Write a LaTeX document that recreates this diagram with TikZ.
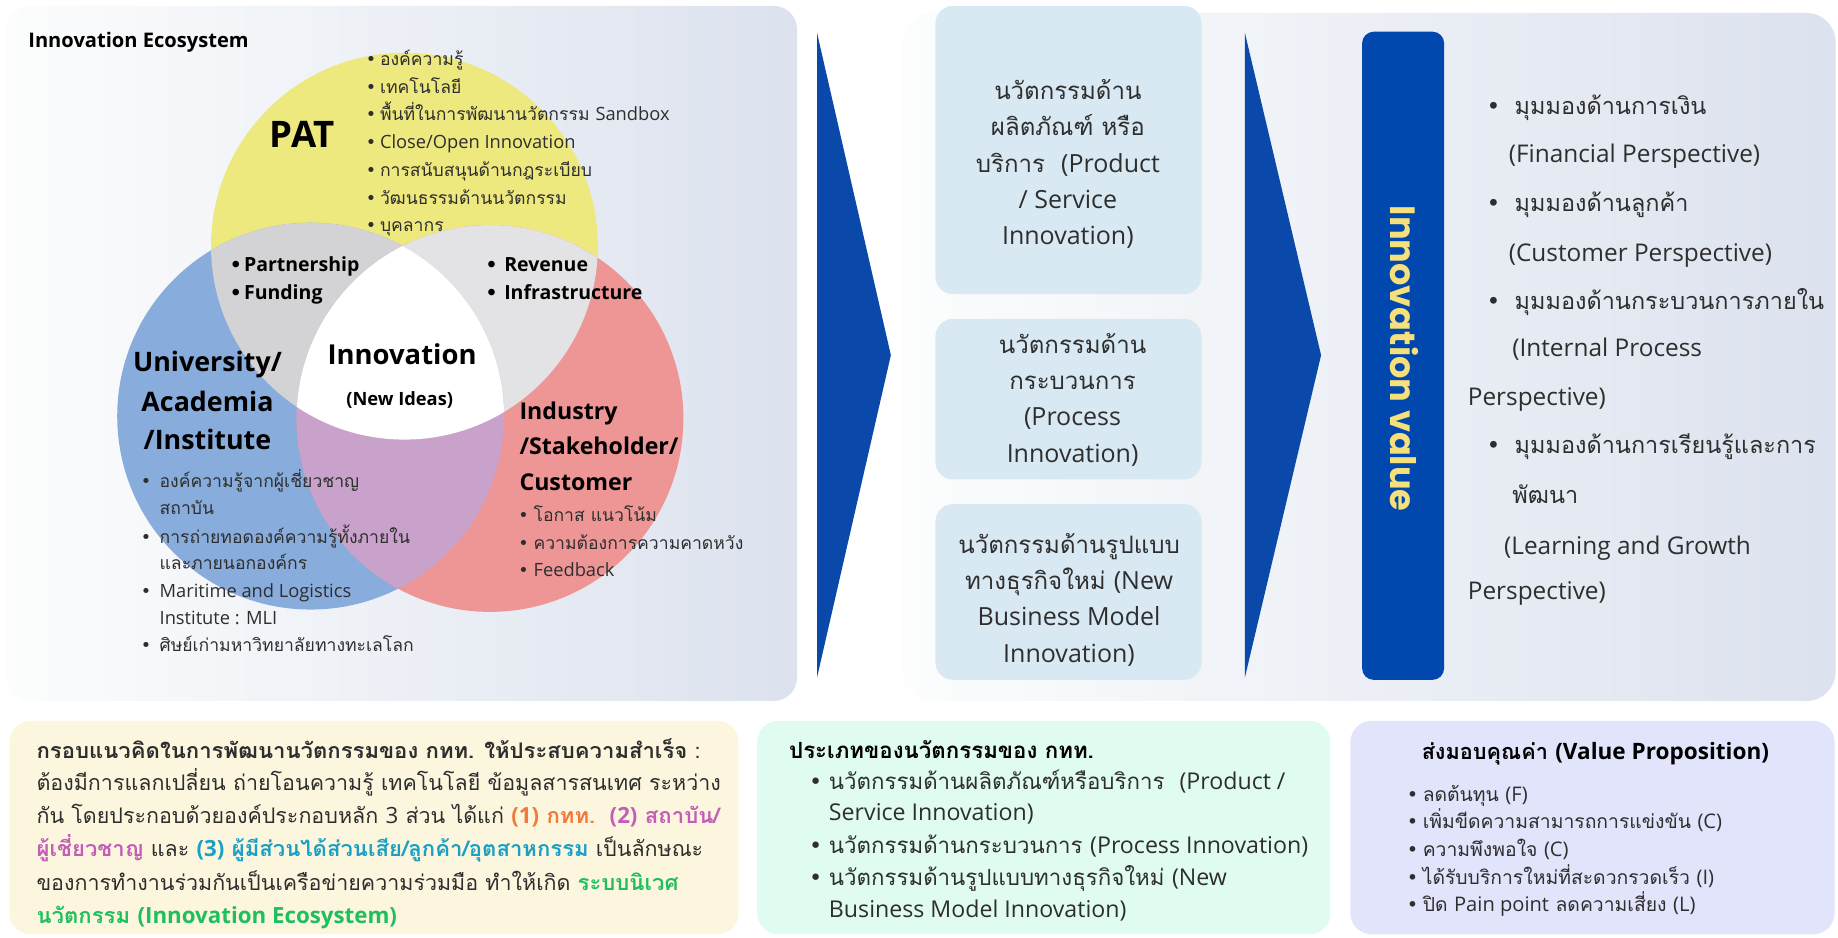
\documentclass[tikz,border=0pt]{standalone}
\usepackage{fontspec}
\setmainfont{Loma}[Script=Thai]
\newfontfamily\latfont{Open Sans}[Scale=1.04]
\newfontfamily\popfont{Poppins}
\newfontfamily\symfont{DejaVu Sans}
\definecolor{ink}{HTML}{2E2E2E}
\definecolor{panelL}{HTML}{FCFDFD}
\definecolor{panelM}{HTML}{EEF6F7}
\definecolor{panelR}{HTML}{DCE2EE}
\definecolor{vyel}{HTML}{EEE97E}
\definecolor{vblu}{HTML}{88ACDC}
\definecolor{vred}{HTML}{EE9595}
\definecolor{vgrayA}{HTML}{D3D3D5}
\definecolor{vgrayB}{HTML}{E3E3E5}
\definecolor{vpur}{HTML}{C9A2CC}
\definecolor{navy}{HTML}{0A48AA}
\definecolor{barblue}{HTML}{0048AE}
\definecolor{baryel}{HTML}{F5E07C}
\definecolor{mbox}{HTML}{D9E9F4}
\definecolor{boxA}{HTML}{FDF6DF}
\definecolor{boxB}{HTML}{E0FCF0}
\definecolor{boxC}{HTML}{E2E4FC}
\definecolor{orng}{HTML}{F07A3A}
\definecolor{magn}{HTML}{C35DB8}
\definecolor{teal}{HTML}{1AA0C4}
\definecolor{grn}{HTML}{1FBF5E}
\newcommand{\bul}[1]{\makebox[#1][l]{\symfont •}}
\newcommand{\fs}[2]{\fontsize{#1}{#2}\selectfont}
\newcommand{\lt}[1]{{\latfont #1}}
% slightly wider bold Thai for the summary paragraph
\newcommand{\bsw}{\bfseries\addfontfeatures{FakeStretch=1.03}}
\begin{document}
\begin{tikzpicture}[x=1pt,y=-1pt,
  txt/.style={anchor=west,inner sep=0pt,text=ink,text height=1.15em,text depth=0pt},
  ctxt/.style={anchor=center,inner sep=0pt,text=ink,align=center},
  venn/.style={txt,font=\fs{15}{18}},
  vlat/.style={txt,font=\fs{15}{18}\latfont},
  vbold/.style={txt,font=\fs{16}{18}\bfseries\latfont,text=black},
  vhead/.style={txt,font=\fs{19}{24}\bfseries\latfont,text=black},
  uhead/.style={ctxt,font=\fs{22}{26}\bfseries\latfont,text=black,text height=1.15em,text depth=0pt},
  mtxt/.style={ctxt,font=\fs{20.5}{31}},
  rtxt/.style={txt,font=\fs{20}{22}},
  rlat/.style={txt,font=\fs{20}{22}\latfont},
  atxt/.style={txt,font=\fs{18.3}{20}},
  btxt/.style={txt,font=\fs{19}{22}},
  ctxts/.style={txt,font=\fs{16.5}{18}}]
\useasboundingbox (0,0) rectangle (1568,800);

% background panels
\shade[rounded corners=20,left color=panelL,middle color=panelM,right color=panelR]
  (5,5) rectangle (680,598);
\shade[rounded corners=25,left color=panelL,middle color=panelM,right color=panelR]
  (770,11) rectangle (1566,598);

% Venn diagram
\coordinate (Y) at (345,210);
\coordinate (B) at (265,355);
\coordinate (R) at (418,357);
\fill[vyel] (Y) circle (165);
\fill[vblu] (B) circle (165);
\fill[vred] (R) circle (165);
\begin{scope}\clip (Y) circle (165); \fill[vgrayA] (B) circle (165); \end{scope}
\begin{scope}\clip (Y) circle (165); \fill[vgrayB] (R) circle (165); \end{scope}
\begin{scope}\clip (B) circle (165); \fill[vpur] (R) circle (165); \end{scope}
\begin{scope}\clip (Y) circle (165); \clip (B) circle (165); \fill[white] (R) circle (165); \end{scope}

\node[txt,font=\fs{16.5}{18}\bfseries\latfont,text=black] (eco) at (24,35) {Innovation Ecosystem};
\node[ctxt,font=\fs{30}{34}\bfseries\latfont,text=black] (pat) at (258,115) {PAT};
\node[venn] (pat1) at (312,50)  {\bul{12pt}องค์ความรู้};
\node[venn] (pat2) at (312,74)  {\bul{12pt}เทคโนโลยี};
\node[venn] (pat3) at (312,97)  {\bul{12pt}พื้นที่ในการพัฒนานวัตกรรม \lt{Sandbox}};
\node[vlat] (pat4) at (312,121) {\bul{12pt}Close/Open Innovation};
\node[venn] (pat5) at (312,145) {\bul{12pt}การสนับสนุนด้านกฎระเบียบ};
\node[venn] (pat6) at (312,169) {\bul{12pt}วัฒนธรรมด้านนวัตกรรม};
\node[venn] (pat7) at (312,192) {\bul{12pt}บุคลากร};

\node[vbold] (pf1) at (196,226) {\bul{12pt}Partnership};
\node[vbold] (pf2) at (196,250) {\bul{12pt}Funding};
\node[vbold] (rv1) at (414,226) {\bul{16pt}Revenue};
\node[vbold] (rv2) at (414,250) {\bul{16pt}Infrastructure};

\node[uhead,font=\fs{22.5}{26}\bfseries\latfont] (inno) at (343,305) {Innovation};
\node[uhead,font=\fs{15}{18}\bfseries\latfont] (newid) at (341,340) {(New Ideas)};

\node[uhead] (uni1) at (177,311) {University/};
\node[uhead] (uni2) at (177,345) {Academia};
\node[uhead] (uni3) at (177,378) {/Institute};
\node[vhead] (ind1) at (443,352) {Industry};
\node[vhead] (ind2) at (443,382) {/Stakeholder/};
\node[vhead] (ind3) at (443,413) {Customer};

\node[venn] (ub1) at (120,410) {\bul{16pt}องค์ความรู้จากผู้เชี่ยวชาญ};
\node[venn] (ub2) at (136,433) {สถาบัน};
\node[venn] (ub3) at (120,458) {\bul{16pt}การถ่ายทอดองค์ความรู้ทั้งภายใน};
\node[venn] (ub4) at (136,480) {และภายนอกองค์กร};
\node[vlat] (ub5) at (120,504) {\bul{16pt}Maritime and Logistics};
\node[vlat] (ub6) at (136,527) {Institute : MLI};
\node[venn] (ub7) at (120,550) {\bul{16pt}ศิษย์เก่ามหาวิทยาลัยทางทะเลโลก};

\node[venn] (ib1) at (442,439) {\bul{13pt}โอกาส แนวโน้ม};
\node[venn] (ib2) at (442,463) {\bul{13pt}ความต้องการความคาดหวัง};
\node[vlat] (ib3) at (442,486) {\bul{13pt}Feedback};

% flow chevrons
\fill[navy] (697,28) -- (760,303) -- (697,578) -- cycle;
\fill[navy] (1062,28) -- (1127,303) -- (1062,578) -- cycle;

% innovation type boxes
\fill[mbox,rounded corners=15] (798,5) rectangle (1025,251);
\fill[mbox,rounded corners=15] (798,272) rectangle (1025,409);
\fill[mbox,rounded corners=15] (798,430) rectangle (1025,580);
\node[mtxt] (m1) at (911,140) {นวัตกรรมด้าน\\ผลิตภัณฑ์ หรือ\\บริการ\ \ \lt{(Product}\\\lt{/ Service}\\\lt{Innovation)}};
\node[mtxt] (m2) at (915,341) {นวัตกรรมด้าน\\กระบวนการ\\\lt{(Process}\\\lt{Innovation)}};
\node[mtxt] (m3) at (912,511.5) {นวัตกรรมด้านรูปแบบ\\ทางธุรกิจใหม่ \lt{(New}\\\lt{Business Model}\\\lt{Innovation)}};

% innovation value bar
\fill[barblue,rounded corners=10] (1162,27) rectangle (1232,580);
\node[ctxt,rotate=-90,text=baryel,font=\popfont\fs{30}{36}\bfseries] (ival) at (1198,306) {Innovation value};

% perspectives
\node[rtxt] (r1) at (1268,92) {\bul{24pt}มุมมองด้านการเงิน};
\node[rlat] (r2) at (1287,133) {(Financial Perspective)};
\node[rtxt] (r3) at (1268,175) {\bul{24pt}มุมมองด้านลูกค้า};
\node[rlat] (r4) at (1287,217) {(Customer Perspective)};
\node[rtxt] (r5) at (1268,258) {\bul{24pt}มุมมองด้านกระบวนการภายใน};
\node[rlat] (r6) at (1290,298) {(Internal Process};
\node[rlat] (r7) at (1252,340) {Perspective)};
\node[rtxt] (r8) at (1268,381) {\bul{24pt}มุมมองด้านการเรียนรู้และการ};
\node[rtxt] (r9) at (1290,424) {พัฒนา};
\node[rlat] (r10) at (1283,467) {(Learning and Growth};
\node[rlat] (r11) at (1252,506) {Perspective)};

% bottom summary boxes
\fill[boxA,rounded corners=18] (8,615) rectangle (630,797);
\fill[boxB,rounded corners=18] (646,615) rectangle (1135,797);
\fill[boxC,rounded corners=18] (1152,615) rectangle (1565,797);

\node[atxt] (a1) at (31,641) {{\bsw กรอบแนวคิดในการพัฒนานวัตกรรมของ กทท. ให้ประสบความสำเร็จ} :};
\node[atxt] (a2) at (31,669) {ต้องมีการแลกเปลี่ยน ถ่ายโอนความรู้ เทคโนโลยี ข้อมูลสารสนเทศ ระหว่าง};
\node[atxt] (a3) at (31,697) {กัน โดยประกอบด้วยองค์ประกอบหลัก \lt{3} ส่วน ได้แก่ {\bsw\color{orng}\lt{(1)} กทท.}\ \ {\bsw\color{magn}\lt{(2)} สถาบัน/}};
\node[atxt] (a4) at (31,725) {{\bsw\color{magn}ผู้เชี่ยวชาญ} และ {\bsw\color{teal}\lt{(3)} ผู้มีส่วนได้ส่วนเสีย/ลูกค้า/อุตสาหกรรม} เป็นลักษณะ};
\node[atxt] (a5) at (31,754) {ของการทำงานร่วมกันเป็นเครือข่ายความร่วมมือ ทำให้เกิด {\bsw\color{grn}ระบบนิเวศ}};
\node[atxt,text=grn] (a6) at (31,782) {{\bsw นวัตกรรม \lt{(Innovation Ecosystem)}}};

\node[btxt,font=\fs{19}{22}\bfseries,text=black] (bt) at (673,641) {ประเภทของนวัตกรรมของ กทท.};
\node[btxt] (bb1) at (690,668) {\bul{17pt}นวัตกรรมด้านผลิตภัณฑ์หรือบริการ\ \ \lt{(Product /}};
\node[btxt] (bb2) at (707,694) {\lt{Service Innovation)}};
\node[btxt] (bb3) at (690,722) {\bul{17pt}นวัตกรรมด้านกระบวนการ \lt{(Process Innovation)}};
\node[btxt] (bb4) at (690,750) {\bul{17pt}นวัตกรรมด้านรูปแบบทางธุรกิจใหม่ \lt{(New}};
\node[btxt] (bb5) at (707,777) {\lt{Business Model Innovation)}};

\node[ctxt,font=\fs{18.5}{22}\bfseries,text=black] (ct) at (1361,643) {ส่งมอบคุณค่า \lt{(Value Proposition)}};
\node[ctxts] (cb1) at (1200,678) {\bul{8pt}\ ลดต้นทุน \lt{(F)}};
\node[ctxts] (cb2) at (1200,701) {\bul{8pt}\ เพิ่มขีดความสามารถการแข่งขัน \lt{(C)}};
\node[ctxts] (cb3) at (1200,725) {\bul{8pt}\ ความพึงพอใจ \lt{(C)}};
\node[ctxts] (cb4) at (1200,749) {\bul{8pt}\ ได้รับบริการใหม่ที่สะดวกรวดเร็ว \lt{(I)}};
\node[ctxts] (cb5) at (1200,772) {\bul{8pt}\ ปิด \lt{Pain point} ลดความเสี่ยง \lt{(L)}};
\end{tikzpicture}
\end{document}
